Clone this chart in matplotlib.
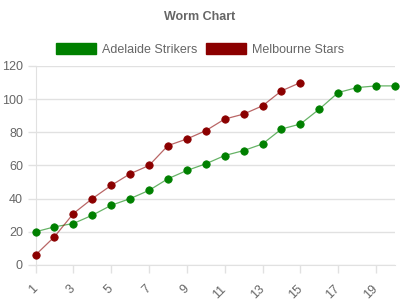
import matplotlib
matplotlib.use("Agg")
import matplotlib.pyplot as plt
from matplotlib.patches import Patch

plt.rcParams["font.family"] = ["Liberation Sans", "DejaVu Sans"]

overs_a = list(range(1, 21))
adelaide = [20, 23, 25, 30, 36, 40, 45, 52, 57, 61, 66, 69, 73, 82, 85, 94, 104, 107, 108, 108]
overs_m = list(range(1, 16))
melbourne = [6, 17, 31, 40, 48, 55, 60, 72, 76, 81, 88, 91, 96, 105, 110]
names = ["Adelaide Strikers", "Melbourne Stars"]
colors = ["#008000", "#8b0000"]
x_ticks = list(range(1, 21, 2))
y_ticks = list(range(0, 121, 20))

fig = plt.figure(figsize=(4, 3), dpi=100)
ax = fig.add_axes([0.08875, 0.1167, 0.89875, 0.6633])

for xs, ys, c in [(overs_a, adelaide, colors[0]), (overs_m, melbourne, colors[1])]:
    ax.plot(xs, ys, color=c, alpha=0.6, lw=0.9, zorder=2)
    ax.plot(xs, ys, ls="none", marker="o", ms=5.3, mfc=c, mec=c, mew=0.6,
            clip_on=False, zorder=3)

ax.set_xlim(1, 20)
ax.set_ylim(0, 120)
ax.set_xticks(x_ticks)
ax.set_xticklabels([str(t) for t in x_ticks], rotation=45, ha="right",
                   rotation_mode="anchor", va="center")
ax.set_yticks(y_ticks)
grid_c = "#e1e1e1"
ax.grid(axis="y", color=grid_c, lw=1)
ax.set_axisbelow(True)
for s in ["top", "right"]:
    ax.spines[s].set_visible(False)
ax.spines["left"].set_color(grid_c)
ax.spines["bottom"].set_color(grid_c)
ax.tick_params(axis="both", colors=grid_c, labelcolor="#666666", labelsize=9,
               length=6, width=1)
ax.tick_params(axis="x", pad=10)
ax.tick_params(axis="y", pad=3)

fig.text(0.5, 0.943, "Worm Chart", ha="center", va="center", fontsize=9,
         fontweight="bold", color="#666666")
handles = [Patch(facecolor=c, edgecolor=c, alpha=1) for c in colors]
leg = fig.legend(handles, names, loc="center", bbox_to_anchor=(0.5, 0.835), ncol=2,
                 frameon=False, fontsize=9, handlelength=3.2, handleheight=1.0,
                 columnspacing=0.7, handletextpad=0.5)
for t in leg.get_texts():
    t.set_color("#666666")

fig.savefig("out.png", dpi=100)
